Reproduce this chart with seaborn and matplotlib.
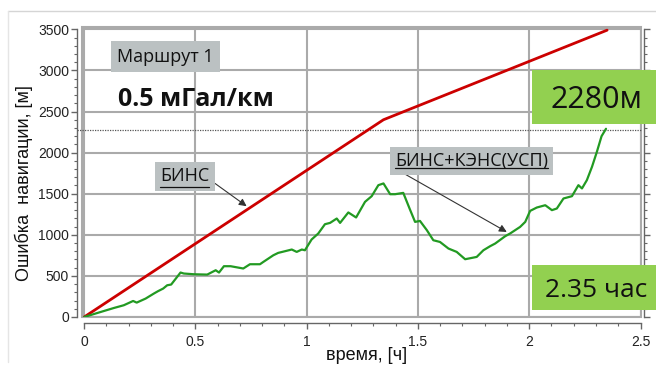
import matplotlib
matplotlib.use("Agg")
import matplotlib.pyplot as plt
import seaborn as sns
import pandas as pd
from matplotlib.ticker import MultipleLocator, FixedLocator, FixedFormatter
from matplotlib.patches import Rectangle
from matplotlib.lines import Line2D

# ---------------- data ----------------
time_red = [0.0, 1.345, 2.35]
err_red = [0, 2400, 3490]

time_green = [0, 0.074, 0.134, 0.178, 0.22, 0.236, 0.276, 0.313, 0.331, 0.355,
              0.373, 0.391, 0.433, 0.448, 0.493, 0.553, 0.591, 0.606, 0.628, 0.658,
              0.715, 0.745, 0.79, 0.805, 0.85, 0.872, 0.933, 0.955, 0.978, 0.992,
              1.022, 1.052, 1.082, 1.105, 1.135, 1.15, 1.187, 1.222, 1.262, 1.292,
              1.322, 1.345, 1.375, 1.397, 1.434, 1.464, 1.487, 1.509, 1.54, 1.569,
              1.599, 1.637, 1.674, 1.712, 1.742, 1.764, 1.794, 1.824, 1.847, 1.892,
              1.914, 1.959, 1.982, 2.004, 2.034, 2.072, 2.102, 2.124, 2.154, 2.192,
              2.221, 2.237, 2.259, 2.282, 2.304, 2.325, 2.345]
err_green = [0, 61, 110, 143, 195, 175, 224, 285, 313, 346,
             386, 395, 541, 529, 520, 516, 569, 541, 618, 618,
             590, 642, 642, 670, 751, 780, 821, 792, 821, 812,
             943, 1016, 1129, 1145, 1198, 1145, 1272, 1211, 1401, 1470,
             1604, 1625, 1494, 1494, 1510, 1308, 1157, 1169, 1056, 934,
             913, 833, 792, 703, 719, 731, 812, 861, 894, 983,
             1016, 1096, 1157, 1291, 1332, 1360, 1300, 1320, 1442, 1470,
             1604, 1564, 1665, 1827, 2010, 2200, 2290]

threshold = 2280
x_ticks = [0, 0.5, 1, 1.5, 2, 2.5]
x_labels = ["0", "0.5", "1", "1.5", "2", "2.5"]
y_ticks = [0, 500, 1000, 1500, 2000, 2500, 3000, 3500]
y_labels = ["0", "500", "1000", "1500", "2000", "2500", "3000", "3500"]

# ---------------- style ----------------
sns.set_style("white")
plt.rcParams["font.family"] = ["Liberation Sans", "DejaVu Sans"]
ANN = ["Open Sans", "DejaVu Sans"]

W, H = 656, 367
fig = plt.figure(figsize=(W / 100, H / 100), dpi=100)
fx = lambda px: px / W
fy = lambda py: 1 - py / H

L, R, T, B = 81.5, 640.5, 26.7, 317.0
ax = fig.add_axes([fx(L), fy(B), (R - L) / W, (B - T) / H])

df_red = pd.DataFrame({"t": time_red, "e": err_red})
df_green = pd.DataFrame({"t": time_green, "e": err_green})
sns.lineplot(data=df_red, x="t", y="e", color="#cc0000", lw=2.0, ax=ax, zorder=4)
sns.lineplot(data=df_green, x="t", y="e", color="#229a22", lw=1.6, ax=ax, zorder=4)

ax.set_xlim(-0.012, 2.5)
ax.set_ylim(0, 3532)

ax.xaxis.set_major_locator(FixedLocator(x_ticks))
ax.xaxis.set_major_formatter(FixedFormatter(x_labels))
ax.yaxis.set_major_locator(FixedLocator(y_ticks))
ax.yaxis.set_major_formatter(FixedFormatter(y_labels))
ax.xaxis.set_minor_locator(MultipleLocator(0.1))
ax.yaxis.set_minor_locator(MultipleLocator(100))

ax.grid(True, which="major", color="#aaaaaa", lw=1.5)
ax.set_axisbelow(True)

# frame around plot area
ax.add_patch(Rectangle((0, 0), 1, 1, transform=ax.transAxes, fill=False,
                       ec="#aaaaaa", lw=1.5, clip_on=False, zorder=1))

ax.spines["top"].set_visible(False)
for s in ["left", "bottom", "right"]:
    ax.spines[s].set_visible(True)
    ax.spines[s].set_color("#666666")
    ax.spines[s].set_linewidth(1.0)
ax.spines["left"].set_position(("outward", 3))
ax.spines["bottom"].set_position(("outward", 4.3))
ax.spines["right"].set_position(("outward", 2.2))
ax.spines["left"].set_bounds(0, 3500)
ax.spines["right"].set_bounds(0, 3500)
ax.spines["bottom"].set_bounds(0, 2.5)

ax.tick_params(axis="both", which="both", direction="out", color="#666666",
               labelsize=10, labelcolor="#222222")
ax.tick_params(axis="both", which="major", length=4, width=1)
ax.tick_params(axis="both", which="minor", length=2, width=0.8)
ax.tick_params(axis="y", which="both", left=True, right=True, labelright=False)
ax.tick_params(axis="x", which="both", bottom=True, top=False)
ax.tick_params(axis="x", which="major", pad=5)
ax.tick_params(axis="y", which="major", pad=2)

ax.set_xlabel("время, [ч]", fontsize=13, color="#111111")
ax.set_ylabel("Ошибка  навигации, [м]", fontsize=13, color="#111111")
ax.xaxis.set_label_coords(0.51, -0.105)
ax.yaxis.set_label_coords(-0.087, 0.46)

# threshold dotted line
ax.axhline(threshold, xmin=-0.008, xmax=1.0, color="#555555", ls=(0, (1, 1)),
           lw=0.9, clip_on=False, zorder=3)

# ---------------- annotations ----------------
GRAY = "#bbc1c2"
fig.text(fx(117), fy(61.7), "Маршрут 1", family=ANN, fontsize=13, ha="left",
         va="baseline", color="#111111",
         bbox=dict(boxstyle="square,pad=0.35", fc=GRAY, ec="none"))
fig.text(fx(118), fy(106), "0.5 мГал/км", family=ANN, fontsize=18,
         fontweight="bold", ha="left", va="baseline", color="#111111")

t1 = fig.text(fx(160), fy(181.5), "БИНС", family=ANN, fontsize=13, ha="left",
              va="baseline", color="#111111",
              bbox=dict(boxstyle="square,pad=0.3", fc=GRAY, ec="none"))
t2 = fig.text(fx(395), fy(166), "БИНС+КЭНС(УСП)", family=ANN, fontsize=13,
              ha="left", va="baseline", color="#111111",
              bbox=dict(boxstyle="square,pad=0.3", fc=GRAY, ec="none"))

ax.annotate("", xy=(0.73, 1348), xytext=(0.588, 1625),
            arrowprops=dict(arrowstyle="-|>", color="#333333", lw=0.8,
                            mutation_scale=11, shrinkA=0, shrinkB=0), zorder=6)
ax.annotate("", xy=(1.899, 1035), xytext=(1.397, 1807),
            arrowprops=dict(arrowstyle="-|>", color="#333333", lw=0.8,
                            mutation_scale=11, shrinkA=0, shrinkB=0), zorder=6)

GREEN = "#92d050"
fig.add_artist(Rectangle((fx(532), fy(124)), (W - 532) / W, 54 / H,
                         transform=fig.transFigure, fc=GREEN, ec="none"))
fig.text(fx(596), fy(108), "2280м", family=ANN, fontsize=22, ha="center",
         va="baseline", color="#111111")
fig.add_artist(Rectangle((fx(532), fy(310)), (W - 532) / W, 45 / H,
                         transform=fig.transFigure, fc=GREEN, ec="none"))
fig.text(fx(596.5), fy(297.3), "2.35 час", family=ANN, fontsize=19, ha="center",
         va="baseline", color="#111111")

# slide border lines
fig.add_artist(Line2D([fx(8), 1], [fy(11), fy(11)], transform=fig.transFigure,
                      color="#d5d5d5", lw=1))
fig.add_artist(Line2D([fx(8), fx(8)], [fy(11), fy(362)], transform=fig.transFigure,
                      color="#e5e5e5", lw=1))

# underline the gray labels
fig.canvas.draw()
renderer = fig.canvas.get_renderer()
for t in (t1, t2):
    ext = t.get_window_extent(renderer)
    _, _, d = renderer.get_text_width_height_descent(t.get_text(),
                                                     t.get_fontproperties(), ismath=False)
    yb = ext.y0 + d - 1.5
    fig.add_artist(Line2D([ext.x0 / W, ext.x1 / W], [yb / H, yb / H],
                          transform=fig.transFigure, color="#111111", lw=0.9,
                          zorder=10))

fig.savefig("out.png", dpi=100)
